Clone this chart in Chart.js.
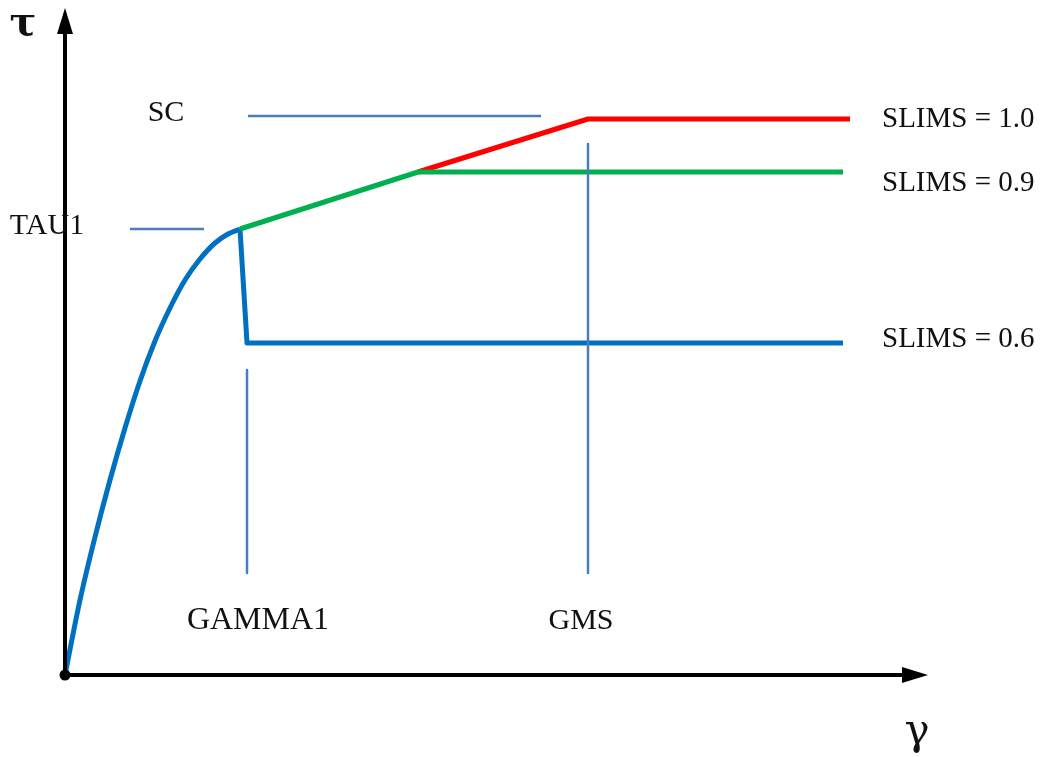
<!DOCTYPE html>
<html>
<head>
<meta charset="utf-8">
<script src="https://cdn.jsdelivr.net/npm/chart.js@4"></script>
<style>
  html, body { margin: 0; padding: 0; background: #ffffff; }
  canvas { display: block; }
</style>
</head>
<body>
<canvas id="c" width="1040" height="757"></canvas>
<script>
// ---- Data (gamma, tau) in schematic units ----
const curveGamma = [0, 0.15, 0.30, 0.45, 0.60, 0.75, 0.90, 1.05, 1.20, 1.35, 1.50, 1.63, 1.75];
const curveTau   = [0, 0.75, 1.38, 1.95, 2.47, 2.94, 3.34, 3.67, 3.95, 4.16, 4.32, 4.41, 4.46];

const slims06Gamma = [1.75, 1.82, 7.78];
const slims06Tau   = [4.46, 3.32, 3.32];

const slims09Gamma = [1.75, 3.53, 7.78];
const slims09Tau   = [4.46, 5.03, 5.03];

const slims10Gamma = [3.53, 5.23, 7.85];
const slims10Tau   = [5.03, 5.56, 5.56];

// reference (guide) lines
const tau1Line   = { gamma: [0.65, 1.39], tau: [4.46, 4.46] };
const scLine     = { gamma: [1.83, 4.76], tau: [5.59, 5.59] };
const gamma1Line = { gamma: [1.82, 1.82], tau: [3.05, 1.02] };
const gmsLine    = { gamma: [5.23, 5.23], tau: [5.31, 1.02] };

// axes extents
const xAxisEnd = 8.63;
const yAxisEnd = 6.67;

// labels: text and anchor (gamma, tau)
const labelTexts = ["SC", "TAU1", "GAMMA1", "GMS", "SLIMS = 1.0", "SLIMS = 0.9", "SLIMS = 0.6"];
const labelGamma = [1.01, -0.18, 1.93, 5.16, 8.17, 8.17, 8.17];
const labelTau   = [5.62, 4.49, 0.54, 0.54, 5.56, 4.92, 3.36];
const labelAlign = ["center", "center", "center", "center", "left", "left", "left"];

function pts(xs, ys) { return xs.map((x, i) => ({ x: x, y: ys[i] })); }

const blue = '#0070C0', green = '#00B050', red = '#FF0000', guide = '#4A7EBB';

function lineDs(data, color, width, tension) {
  return {
    data: data, showLine: true, borderColor: color, backgroundColor: color,
    borderWidth: width, pointRadius: 0, pointHoverRadius: 0, tension: tension || 0,
    borderCapStyle: 'butt', borderJoinStyle: 'round', clip: false, fill: false
  };
}

function fontFor(t) {
  if (t === 'GAMMA1') return '32px "Liberation Serif", serif';
  if (t.indexOf('SLIMS') === 0) return '29px "Liberation Serif", serif';
  return '30px "Liberation Serif", serif';
}

const overlay = {
  id: 'overlay',
  afterDatasetsDraw(chart) {
    const ctx = chart.ctx;
    const xs = chart.scales.x, ys = chart.scales.y;
    const px = v => xs.getPixelForValue(v), py = v => ys.getPixelForValue(v);
    ctx.save();
    // arrowheads
    ctx.fillStyle = '#000';
    const ox = px(0), oy = py(0);
    const tipY = py(yAxisEnd);
    ctx.beginPath();
    ctx.moveTo(ox, tipY); ctx.lineTo(ox - 8, tipY + 26); ctx.lineTo(ox + 8, tipY + 26); ctx.closePath(); ctx.fill();
    const tipX = px(xAxisEnd);
    ctx.beginPath();
    ctx.moveTo(tipX, oy); ctx.lineTo(tipX - 26, oy - 8); ctx.lineTo(tipX - 26, oy + 8); ctx.closePath(); ctx.fill();
    // origin dot
    ctx.beginPath(); ctx.arc(ox, oy, 5.5, 0, Math.PI * 2); ctx.fill();
    // labels
    ctx.fillStyle = '#111';
    ctx.textBaseline = 'middle';
    labelTexts.forEach((t, i) => {
      ctx.font = fontFor(t);
      ctx.textAlign = labelAlign[i];
      ctx.fillText(t, px(labelGamma[i]), py(labelTau[i]));
    });
    // axis symbols
    ctx.textAlign = 'center';
    ctx.font = 'bold 40px "DejaVu Serif", serif';
    ctx.fillText('τ', px(-0.42), py(6.5));
    ctx.font = '42px "DejaVu Serif", serif';
    ctx.fillText('γ', px(8.52), py(-0.58));
    ctx.restore();
  }
};

new Chart(document.getElementById('c'), {
  type: 'scatter',
  data: {
    datasets: [
      lineDs([{ x: 0, y: 0 }, { x: 0, y: yAxisEnd - 0.2 }], '#000', 4),
      lineDs([{ x: 0, y: 0 }, { x: xAxisEnd - 0.2, y: 0 }], '#000', 4),
      lineDs(pts(tau1Line.gamma, tau1Line.tau), guide, 2.5),
      lineDs(pts(scLine.gamma, scLine.tau), guide, 2.5),
      lineDs(pts(gamma1Line.gamma, gamma1Line.tau), guide, 2.5),
      lineDs(pts(gmsLine.gamma, gmsLine.tau), guide, 2.5),
      lineDs(pts(slims09Gamma, slims09Tau), green, 5),
      lineDs(pts(slims10Gamma, slims10Tau), red, 5),
      lineDs(pts(slims06Gamma, slims06Tau), blue, 5),
      Object.assign(lineDs(pts(curveGamma, curveTau), blue, 5, 0.4), { cubicInterpolationMode: 'monotone' })
    ]
  },
  options: {
    responsive: false,
    animation: false,
    events: [],
    layout: { padding: 0 },
    plugins: { legend: { display: false }, tooltip: { enabled: false } },
    scales: {
      x: { type: 'linear', min: -0.65, max: 9.75, display: false },
      y: { type: 'linear', min: -0.82, max: 6.75, display: false }
    }
  },
  plugins: [overlay]
});
</script>
</body>
</html>
